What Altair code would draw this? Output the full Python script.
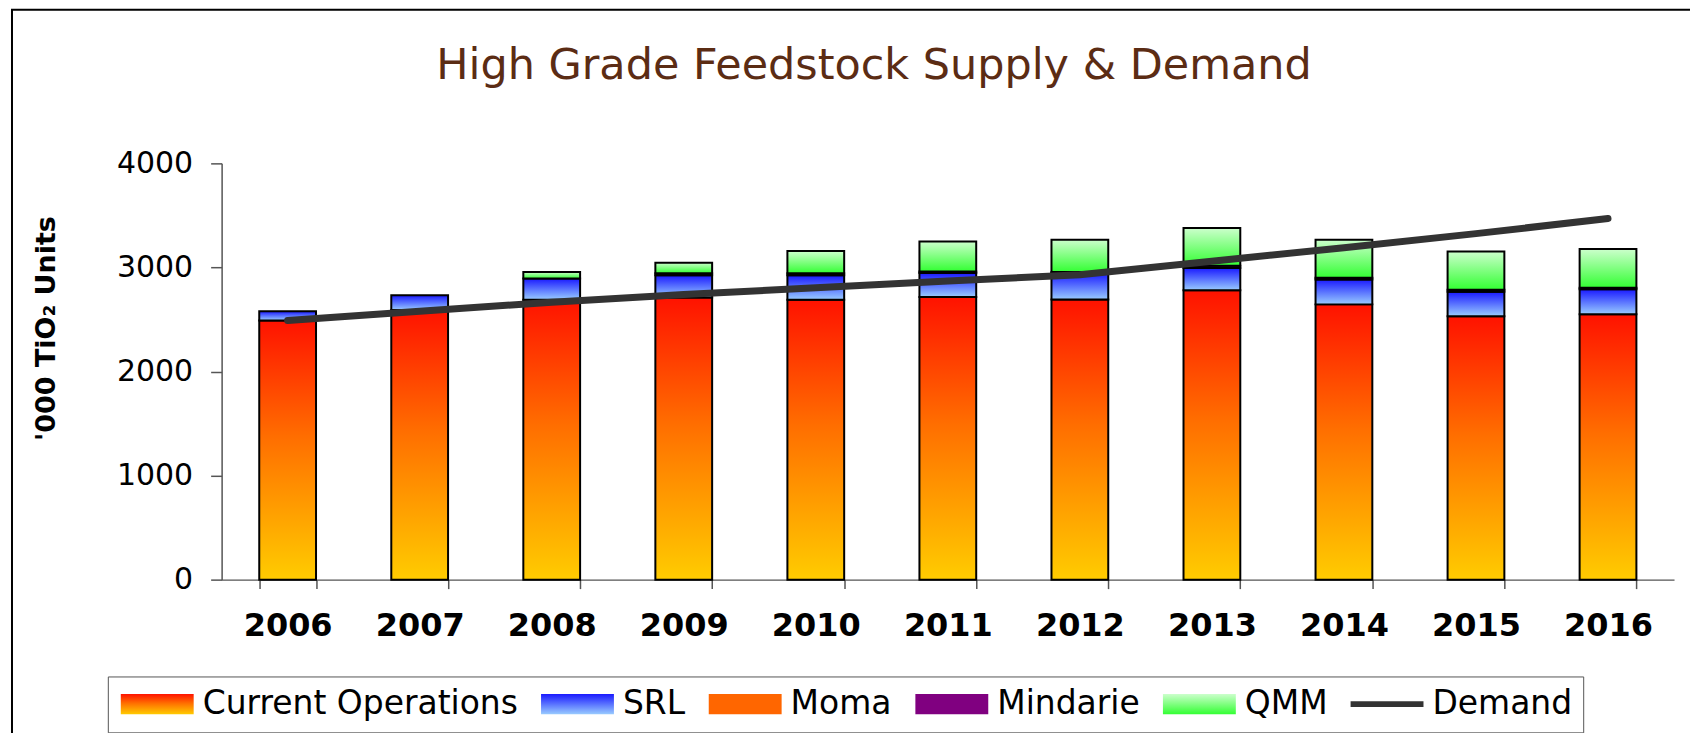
import altair as alt
import pandas as pd

years = [2006, 2007, 2008, 2009, 2010, 2011, 2012, 2013, 2014, 2015, 2016]
current_ops = [2490, 2590, 2690, 2710, 2690, 2716, 2691, 2780, 2645, 2531, 2550]
srl = [89, 143, 203, 214, 234, 231, 255, 215, 240, 235, 240]
moma = [0, 0, 0, 0, 0, 0, 0, 0, 0, 0, 0]
mindarie = [0, 0, 0, 20, 20, 15, 10, 20, 15, 20, 15]
qmm = [0, 0, 63, 102, 213, 288, 311, 363, 367, 368, 372]
demand = [2490, 2580, 2665, 2740, 2805, 2870, 2930, 3060, 3190, 3325, 3470]

series_names = ["Current Operations", "SRL", "Moma", "Mindarie", "QMM"]
legend_names = series_names + ["Demand"]
series_values = [current_ops, srl, moma, mindarie, qmm]

rows = []
for order, (name, vals) in enumerate(zip(series_names, series_values)):
    for yr, v in zip(years, vals):
        rows.append({"year": yr, "series": name, "order": order, "value": v})
df = pd.DataFrame(rows)
demand_df = pd.DataFrame({"year": years, "demand": demand})


def grad(stops):
    return alt.LinearGradient(
        gradient="linear", x1=0, y1=0, x2=0, y2=1,
        stops=[alt.GradientStop(offset=o, color=c) for o, c in stops],
    )


def grad_expr(stops):
    s = ", ".join("{offset: %s, color: '%s'}" % (o, c) for o, c in stops)
    return {"expr": "{gradient: 'linear', x1: 0, y1: 0, x2: 0, y2: 1, stops: [%s]}" % s}


stops_map = {
    "Current Operations": [(0, "#ff1200"), (0.45, "#ff6e00"), (1, "#ffcc00")],
    "SRL": [(0, "#1a1aff"), (1, "#99ccff")],
    "Moma": [(0, "#ff6600"), (1, "#ff6600")],
    "Mindarie": [(0, "#800080"), (1, "#800080")],
    "QMM": [(0, "#ccffcc"), (1, "#33ff33")],
}

FONT = "DejaVu Sans"
yscale = alt.Scale(domain=[0, 4000], nice=False, zero=True)
xscale = alt.Scale(paddingInner=0.57, paddingOuter=0.285)

xaxis = alt.Axis(
    title=None, labelAngle=0, labelFont=FONT, labelFontWeight="bold",
    labelFontSize=32, labelColor="black", tickBand="extent", tickSize=9,
    tickColor="#555555", domainColor="#555555", tickWidth=1.5, domainWidth=1.5,
    labelPadding=22, grid=False,
)
yaxis = alt.Axis(
    title="'000 TiO₂ Units", values=[0, 1000, 2000, 3000, 4000], format="d",
    labelFont=FONT, labelFontSize=30, labelColor="black", labelPadding=18,
    tickSize=11, tickColor="#555555", domainColor="#555555", tickWidth=1.5,
    domainWidth=1.5, grid=False, titleFont=FONT, titleFontWeight="bold",
    titleFontSize=27, titleColor="black", titleX=-175, titleY=165,
    titleAngle=270, titleAlign="center", titleBaseline="middle",
)

X = alt.X("year:O", scale=xscale, axis=xaxis)

base = alt.Chart(df).transform_filter("datum.value > 0").transform_stack(
    stack="value", groupby=["year"], as_=["v0", "v1"],
    sort=[alt.SortField("order", order="ascending")],
)

bar_layers = []
for name in series_names:
    bar_layers.append(
        base.transform_filter(alt.datum.series == name)
        .mark_bar(fill=grad(stops_map[name]), stroke="black", strokeWidth=2)
        .encode(x=X, y=alt.Y("v0:Q", scale=yscale, axis=yaxis), y2="v1:Q")
    )

line = alt.Chart(demand_df).mark_line(
    color="#333333", strokeWidth=7, strokeCap="round"
).encode(x=X, y=alt.Y("demand:Q", scale=yscale, axis=yaxis))

color_range = [grad_expr(stops_map[n]) for n in series_names] + ["#333333"]
rect_path = "M-2.5,-0.7H2.5V0.7H-2.5Z"
line_path = "M-2.5,-0.2H2.5V0.2H-2.5Z"
shape_range = [rect_path] * 5 + [line_path]

legend_layer = alt.Chart(df).transform_filter("datum.value < 0").mark_point(
    filled=True
).encode(
    color=alt.Color("series:N", scale=alt.Scale(domain=legend_names, range=color_range), title=None),
    shape=alt.Shape("series:N", scale=alt.Scale(domain=legend_names, range=shape_range), title=None),
)

frame = alt.Chart(pd.DataFrame({"a": [0]})).mark_rect(
    filled=False, stroke="black", strokeWidth=2
).encode(x=alt.value(-210), x2=alt.value(1500), y=alt.value(-154), y2=alt.value(700))

chart = alt.layer(frame, *bar_layers, line, legend_layer).properties(
    width=1455, height=417,
    title=alt.TitleParams(
        "High Grade Feedstock Supply & Demand", font=FONT, fontSize=43,
        fontWeight="normal", color="#5B2C14", anchor="middle", dx=-74,
        offset=-79, frame="group",
    ),
    autosize=alt.AutoSizeParams(type="none"),
    padding={"left": 214, "top": 155, "right": 16, "bottom": 153},
).configure_view(stroke=None).configure_legend(
    orient="none", legendX=-114, legendY=514, direction="horizontal",
    strokeColor="#555555", fillColor="white", padding=11,
    labelFont=FONT, labelFontSize=33, labelColor="black", labelOffset=29,
    symbolOffset=22, columnPadding=18, symbolSize=853, symbolStrokeColor="black",
    symbolStrokeWidth=2, symbolOpacity=1, labelLimit=0,
)

chart.save("out.html", embed_options={"renderer": "svg", "actions": False})
